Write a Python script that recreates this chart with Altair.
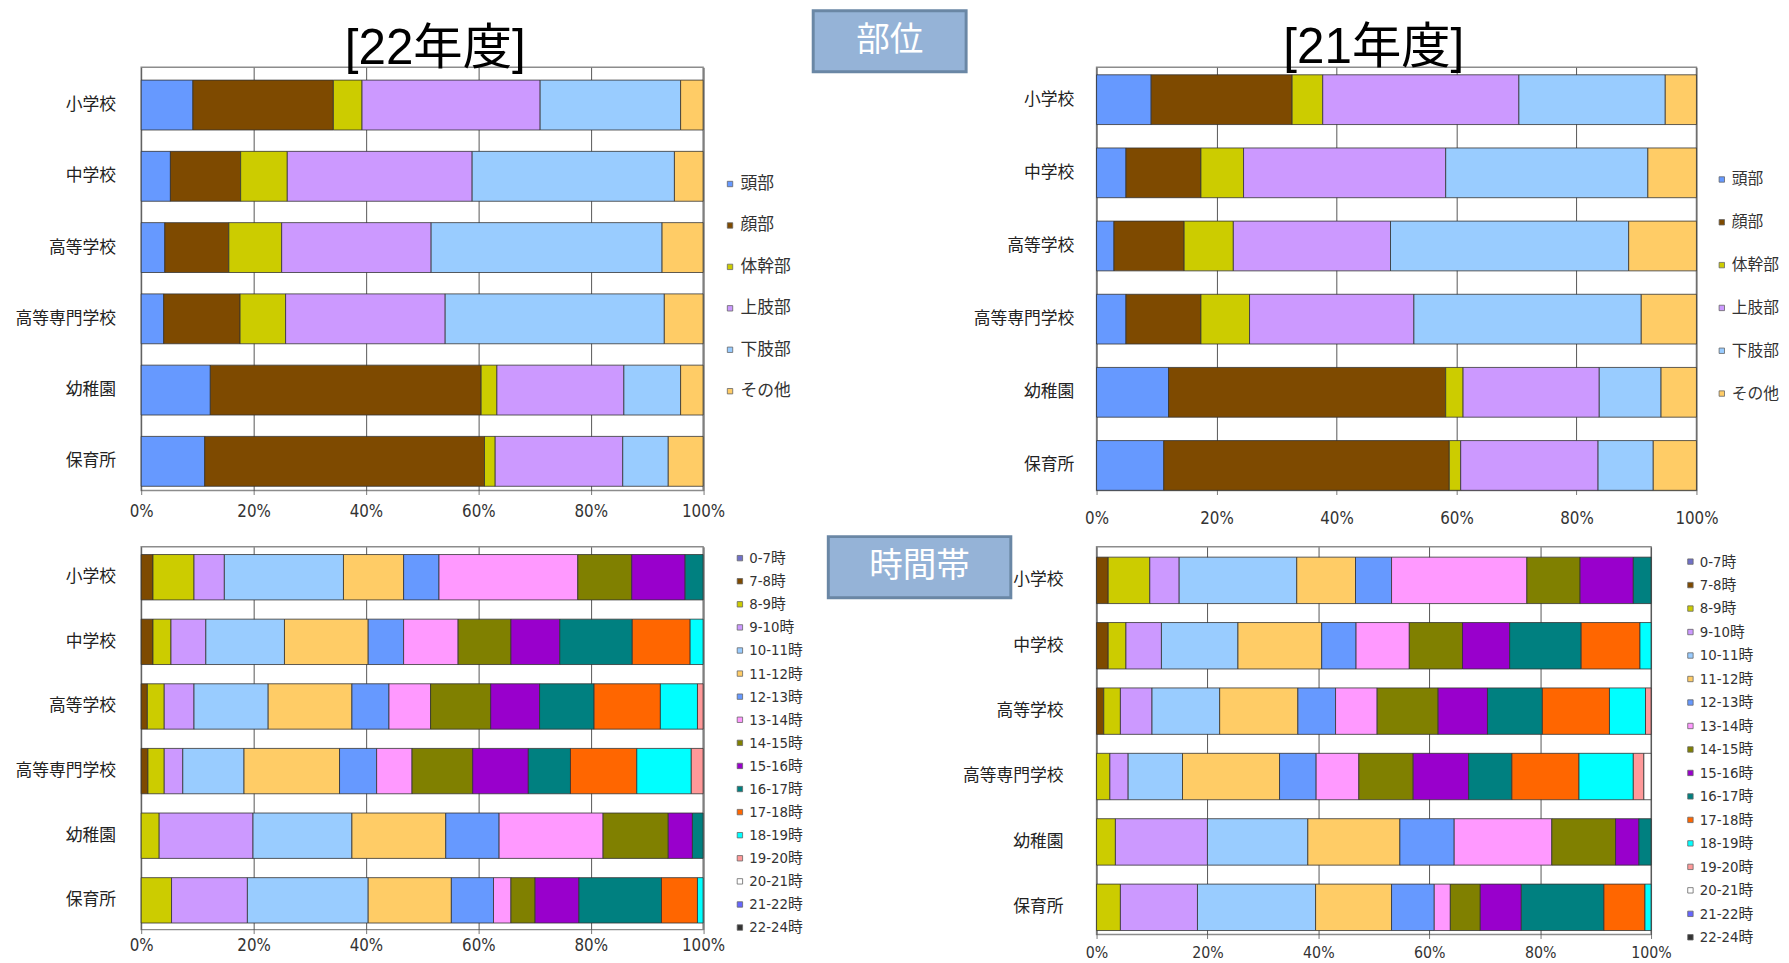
import altair as alt
import pandas as pd

# ---------------- data ----------------
schools = ["小学校", "中学校", "高等学校", "高等専門学校", "幼稚園", "保育所"]

parts = ["頭部", "顔部", "体幹部", "上肢部", "下肢部", "その他"]
part_colors = ["#6699FF", "#7E4A00", "#CCCC00", "#CC99FF", "#99CCFF", "#FFCC66"]

hours = ["0-7時", "7-8時", "8-9時", "9-10時", "10-11時", "11-12時", "12-13時",
         "13-14時", "14-15時", "15-16時", "16-17時", "17-18時", "18-19時",
         "19-20時", "20-21時", "21-22時", "22-24時"]
hour_colors = ["#7070C8", "#7E4A00", "#CCCC00", "#CC99FF", "#99CCFF", "#FFCC66",
               "#6699FF", "#FF99FF", "#808000", "#9900CC", "#008080", "#FF6600",
               "#00FFFF", "#FF9999", "#FFFFFF", "#6666FF", "#333333"]

# 部位 (percent), rows follow `schools`, columns follow `parts`
parts_22 = [
    [9.2, 25.0, 5.1, 31.7, 25.0, 4.0],
    [5.2, 12.5, 8.3, 32.9, 36.0, 5.1],
    [4.2, 11.4, 9.4, 26.6, 41.1, 7.3],
    [4.0, 13.6, 8.1, 28.4, 39.0, 6.9],
    [12.3, 48.2, 2.8, 22.6, 10.1, 4.0],
    [11.3, 49.8, 1.9, 22.7, 8.1, 6.2],
]
parts_21 = [
    [9.1, 23.5, 5.1, 32.7, 24.4, 5.2],
    [4.9, 12.5, 7.1, 33.7, 33.7, 8.1],
    [2.9, 11.7, 8.2, 26.2, 39.7, 11.3],
    [4.9, 12.5, 8.1, 27.4, 37.9, 9.2],
    [12.0, 46.2, 2.9, 22.7, 10.3, 5.9],
    [11.2, 47.6, 1.9, 22.9, 9.2, 7.2],
]

# 時間帯 (percent), rows follow `schools`, columns follow `hours`
hours_22 = [
    [0, 2.1, 7.3, 5.4, 21.2, 10.7, 6.3, 24.7, 9.6, 9.5, 3.2, 0, 0, 0, 0, 0, 0],
    [0, 2.1, 3.2, 6.2, 14.0, 14.9, 6.3, 9.7, 9.4, 8.7, 12.9, 10.3, 2.3, 0, 0, 0, 0],
    [0, 1.1, 3.0, 5.3, 13.2, 14.9, 6.6, 7.4, 10.7, 8.7, 9.7, 11.8, 6.6, 1.0, 0, 0, 0],
    [0, 1.2, 2.9, 3.3, 10.9, 17.0, 6.6, 6.3, 10.8, 9.9, 7.5, 11.8, 9.7, 2.1, 0, 0, 0],
    [0, 0, 3.2, 16.7, 17.6, 16.7, 9.5, 18.5, 11.6, 4.3, 1.9, 0, 0, 0, 0, 0, 0],
    [0, 0, 5.4, 13.5, 21.5, 14.8, 7.5, 3.1, 4.3, 7.8, 14.7, 6.4, 1.0, 0, 0, 0, 0],
]
hours_21 = [
    [0, 2.1, 7.5, 5.3, 21.2, 10.6, 6.5, 24.4, 9.6, 9.6, 3.2, 0, 0, 0, 0, 0, 0],
    [0, 2.1, 3.2, 6.4, 13.8, 15.1, 6.2, 9.6, 9.6, 8.5, 12.9, 10.6, 2.0, 0, 0, 0, 0],
    [0, 1.3, 3.0, 5.7, 12.2, 14.1, 6.8, 7.5, 11.0, 8.9, 9.9, 12.1, 6.5, 1.0, 0, 0, 0],
    [0, 0, 2.4, 3.3, 9.8, 17.5, 6.6, 7.7, 9.8, 10.0, 7.8, 12.1, 9.8, 1.9, 1.3, 0, 0],
    [0, 0, 3.4, 16.6, 18.1, 16.6, 9.8, 17.6, 11.5, 4.2, 2.2, 0, 0, 0, 0, 0, 0],
    [0, 0, 4.3, 13.9, 21.3, 13.7, 7.7, 2.9, 5.4, 7.4, 14.9, 7.4, 1.1, 0, 0, 0, 0],
]

titles = ["[22年度]", "[21年度]"]
box_labels = ["部位", "時間帯"]
x_ticks = [0, 0.2, 0.4, 0.6, 0.8, 1.0]

CJK = "Noto Sans CJK JP"
NARROW = "Liberation Sans Narrow, DejaVu Sans Condensed, Liberation Sans, Noto Sans CJK JP"
TITLE_FONT = "Liberation Sans, Noto Sans CJK JP"


def long_df(rows, cats):
    recs = []
    for s, row in zip(schools, rows):
        for i, (c, v) in enumerate(zip(cats, row)):
            if v > 0:
                recs.append({"school": s, "cat": c, "idx": i, "v": v})
    return pd.DataFrame(recs)


def panel(rows, cats, colors, w, h, pi, po, align, ylab_pad, xlab_pad, xlab_size,
          leg_x, leg_y, leg_font, leg_row, leg_pad, title, title_x, title_y, extra=()):
    df = long_df(rows, cats)
    bars = alt.Chart(df).mark_bar(stroke="#333333", strokeWidth=0.8).encode(
        x=alt.X("v:Q", stack="normalize",
                scale=alt.Scale(domain=[0, 1], nice=False),
                axis=alt.Axis(values=x_ticks, format=".0%", title=None, grid=True,
                              gridColor="#555555", gridWidth=1, tickSize=4,
                              tickColor="#777777", domain=False, labelFont=NARROW,
                              labelFontSize=xlab_size, labelColor="#333333",
                              labelPadding=xlab_pad, labelFlush=False)),
        y=alt.Y("school:N",
                scale=alt.Scale(domain=schools, paddingInner=pi, paddingOuter=po,
                                align=align),
                axis=alt.Axis(title=None, ticks=False, domain=False, labelFont=CJK,
                              labelFontSize=17, labelColor="#222222",
                              labelPadding=ylab_pad)),
        color=alt.Color("cat:N", scale=alt.Scale(domain=cats, range=colors),
                        legend=alt.Legend(orient="none", legendX=leg_x, legendY=leg_y,
                                          title=None, padding=0, labelFont=NARROW,
                                          labelFontSize=leg_font, labelColor="#333333",
                                          symbolType="square", symbolSize=30,
                                          symbolStrokeColor="#666666",
                                          symbolStrokeWidth=0.8, labelOffset=2,
                                          rowPadding=leg_pad, clipHeight=leg_row)),
        order=alt.Order("idx:Q", sort="ascending"),
    )
    layers = [bars]
    if title:
        ttl = alt.Chart(pd.DataFrame({"t": [title]})).mark_text(
            font=TITLE_FONT, fontSize=50, color="#000000", align="center",
            baseline="middle").encode(text="t:N", x=alt.value(title_x),
                                      y=alt.value(title_y))
        layers.append(ttl)
    layers += list(extra)
    return alt.layer(*layers).properties(width=w, height=h)


def label_box(text, x1, x2, y1, y2, font_size):
    d = pd.DataFrame({"t": [text]})
    rect = alt.Chart(d).mark_rect(fill="#95B3D7", stroke="#6A87A5", strokeWidth=3).encode(
        x=alt.value(x1), x2=alt.value(x2), y=alt.value(y1), y2=alt.value(y2))
    txt = alt.Chart(d).mark_text(font=CJK, fontSize=font_size, color="#FFFFFF",
                                 align="center", baseline="middle").encode(
        text="t:N", x=alt.value((x1 + x2) / 2), y=alt.value((y1 + y2) / 2))
    return [rect, txt]


TL = panel(parts_22, parts, part_colors, 569.5, 429, 0.30, 0.12, 0.75, 26, 9.5, 17,
           588.3, 97.3, 17, 42, 0, titles[0], 298, -18)
TR = panel(parts_21, parts, part_colors, 608, 429, 0.32, 0.053, 0.97, 23, 16, 17,
           625.7, 92.2, 16, 43, 0.4, titles[1], 281, -19,
           extra=label_box(box_labels[0], -287.2, -132.2, -57.4, 4.6, 34))
BL = panel(hours_22, hours, hour_colors, 569.5, 388, 0.298, 0.111, 0.54, 26, 4, 17,
           599.3, 0, 15, 23, 0.4, "", 0, 0)
BR = panel(hours_21, hours, hour_colors, 562, 393, 0.29, 0.11, 0.72, 34, 6, 16,
           594.4, 3.5, 15, 23, 0.8, "", 0, 0,
           extra=label_box(box_labels[1], -271.9, -86.9, -10.3, 51.7, 34))

chart = alt.concat(
    TL, TR, BL, BR, columns=2,
    spacing={"row": 57, "column": 398.3}, bounds="flush", align="none",
).resolve_scale(
    color="independent", x="independent", y="independent"
).resolve_legend(
    color="independent"
).properties(
    padding={"left": 6, "top": -6.4, "right": 0, "bottom": 0},
    background="#FFFFFF",
).configure_view(stroke="#8C8C8C", strokeWidth=1.5)

chart.save("out.html", embed_options={"renderer": "svg", "actions": False})
